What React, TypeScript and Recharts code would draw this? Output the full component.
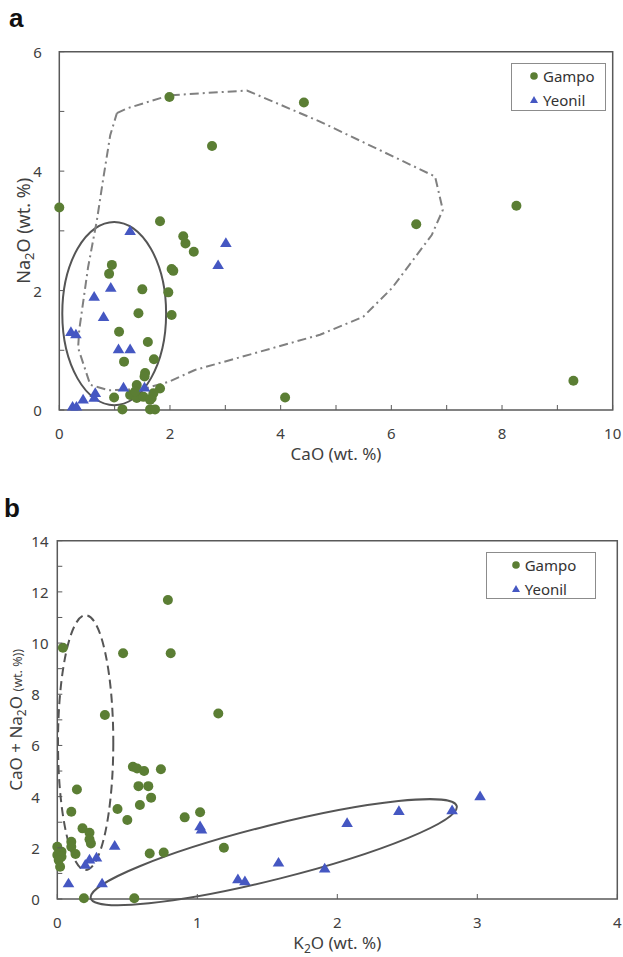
import { ScatterChart, Scatter, XAxis, YAxis, ReferenceArea, Legend } from 'recharts'

const FONT = '"Noto Sans", sans-serif'
const INK = '#404040'
const AXIS = '#595959'
const GREEN = '#5b7e34'
const BLUE = '#4557c2'

// panel a: CaO vs Na2O
const gampoCaO = [0, 1.82, 2.24, 2.28, 2.43, 0.95, 0.9, 2.03, 2.06, 1.5, 1.97, 1.43, 2.03, 1.08, 1.6, 1.17, 1.71, 1.55, 1.54, 1.4, 1.82, 0.99, 1.28, 1.4, 1.52, 1.67, 1.7, 1.64, 1.14, 1.64, 1.73, 1.37, 1.99, 4.42, 2.76, 4.08, 6.45, 8.26, 9.29]
const gampoNa2O = [3.39, 3.16, 2.91, 2.79, 2.65, 2.43, 2.28, 2.36, 2.33, 2.02, 1.97, 1.62, 1.59, 1.31, 1.14, 0.81, 0.85, 0.62, 0.56, 0.42, 0.36, 0.21, 0.25, 0.2, 0.22, 0.2, 0.28, 0.17, 0.01, 0.01, 0.01, 0.31, 5.24, 5.15, 4.42, 0.21, 3.11, 3.42, 0.49]
const yeonilCaO = [1.28, 0.93, 0.63, 0.8, 0.21, 0.3, 1.07, 1.28, 1.16, 1.54, 0.65, 0.63, 0.43, 0.24, 0.31, 3.01, 2.87]
const yeonilNa2O = [3.0, 2.05, 1.9, 1.56, 1.31, 1.27, 1.02, 1.02, 0.38, 0.38, 0.29, 0.21, 0.18, 0.06, 0.06, 2.8, 2.43]
// dash-dot outline drawn round the Gampo field
const hullCaO = [1.04, 1.22, 1.99, 3.39, 4.71, 6.79, 6.93, 6.73, 6.01, 5.49, 4.71, 2.45, 1.97, 1.51, 0.89, 0.56, 0.34, 0.36, 0.52, 0.68, 0.79, 0.92, 1.04]
const hullNa2O = [4.97, 5.05, 5.27, 5.35, 4.83, 3.91, 3.35, 2.93, 2.04, 1.56, 1.26, 0.67, 0.47, 0.35, 0.33, 0.42, 1.04, 1.34, 2.39, 3.18, 3.85, 4.6, 4.97]
const caoTicks = [0, 1, 2, 3, 4, 5, 6, 7, 8, 9, 10]
const na2oTicks = [0, 1, 2, 3, 4, 5, 6]

// panel b: K2O vs CaO + Na2O
const gampoK2O = [0.54, 0.57, 0.62, 0.74, 0.14, 0.58, 0.65, 0.67, 0.59, 0.43, 0.1, 0.5, 0.18, 0.23, 0.23, 0.24, 0.1, 0.1, 0.13, 0, 0.03, 0, 0.03, 0.01, 0.02, 0.66, 0.76, 0.19, 0.55, 1.15, 0.34, 0.04, 0.47, 0.81, 0.79, 0.91, 1.02, 1.19]
const gampoSum = [5.17, 5.1, 5.0, 5.07, 4.28, 4.41, 4.41, 3.96, 3.67, 3.52, 3.41, 3.09, 2.76, 2.59, 2.33, 2.17, 2.24, 2.04, 1.76, 2.04, 1.85, 1.72, 1.65, 1.52, 1.26, 1.78, 1.82, 0.03, 0.03, 7.25, 7.19, 9.82, 9.6, 9.6, 11.68, 3.19, 3.39, 2.0]
const yeonilK2O = [0.41, 0.28, 0.23, 0.2, 0.08, 0.32, 1.02, 1.03, 1.29, 1.34, 1.58, 1.91, 2.07, 2.44, 2.82, 3.02]
const yeonilSum = [2.09, 1.63, 1.55, 1.35, 0.62, 0.62, 2.85, 2.72, 0.78, 0.7, 1.43, 1.2, 2.98, 3.45, 3.48, 4.02]
const k2oTicks = [0, 1, 2, 3, 4]
const sumTicks = [0, 1, 2, 3, 4, 5, 6, 7, 8, 9, 10, 11, 12, 13, 14]

// ovals, as boxes in data units
const ovalA = { x1: 0.054, x2: 1.93, y1: 0.08, y2: 3.15 }
const dashedOvalB = { x1: 0.005, x2: 0.4, y1: 1.13, y2: 11.09 }
const tiltedOvalB = { x1: 0.239, x2: 2.853, y1: 0.03, y2: 3.63 } // ends of the long axis

const zip = (xs: number[], ys: number[]) => xs.map((x, i) => ({ x, y: ys[i] }))

const Dot = (p: any) => <circle cx={p.cx} cy={p.cy} r={5} fill={GREEN} />
const Tri = (p: any) => (
  <polygon
    points={`${p.cx},${p.cy - 5.5} ${p.cx - 5.8},${p.cy + 4.2} ${p.cx + 5.8},${p.cy + 4.2}`}
    fill={BLUE}
  />
)
const NoDot = () => <g />

const oval = (dash?: string) => (p: any) => (
  <ellipse
    cx={p.x + p.width / 2}
    cy={p.y + p.height / 2}
    rx={p.width / 2}
    ry={p.height / 2}
    fill="none"
    stroke="#555"
    strokeWidth={2}
    strokeDasharray={dash}
  />
)

const TiltedOval = (p: any) => {
  const cx = p.x + p.width / 2
  const cy = p.y + p.height / 2
  const rx = Math.hypot(p.width, p.height) / 2
  const ang = (-Math.atan2(p.height, p.width) * 180) / Math.PI
  return (
    <ellipse
      cx={cx}
      cy={cy}
      rx={rx}
      ry={27}
      transform={`rotate(${ang} ${cx} ${cy})`}
      fill="none"
      stroke="#555"
      strokeWidth={2}
    />
  )
}

const xTick = (every: number) => (p: any) => {
  const v = p.payload.value
  return (
    <g>
      <line x1={p.x} x2={p.x} y1={p.y} y2={p.y - 5} stroke={AXIS} />
      {v % every === 0 && (
        <text x={p.x} y={p.y + 23} textAnchor="middle" dominantBaseline="central" fontSize={15} fill={INK} fontFamily={FONT}>
          {v}
        </text>
      )}
    </g>
  )
}

const yTick = (every: number, gap: number) => (p: any) => {
  const v = p.payload.value
  return (
    <g>
      <line x1={p.x} x2={p.x + 5} y1={p.y} y2={p.y} stroke={AXIS} />
      {v % every === 0 && (
        <text x={p.x - gap} y={p.y} textAnchor="start" dominantBaseline="central" fontSize={15} fill={INK} fontFamily={FONT}>
          {v}
        </text>
      )}
    </g>
  )
}

const legendBox = (markerX: number, textX: number, rows: number[]) => (props: any) => {
  const items = (props.payload ?? []).filter((e: any) => e.type !== 'none')
  return (
    <div
      style={{
        position: 'relative',
        width: '100%',
        height: '100%',
        border: '1px solid #8c8c8c',
        boxSizing: 'border-box',
        background: '#fff',
        fontFamily: FONT,
        fontSize: 15,
        color: '#333',
      }}
    >
      {items.map((e: any, i: number) => (
        <div key={e.value} style={{ position: 'absolute', left: 0, top: rows[i] - 11, height: 22, width: '100%' }}>
          <svg width={12} height={22} style={{ position: 'absolute', left: markerX - 6, top: 0 }}>
            {e.type === 'triangle' ? (
              <polygon points="6,7 2,14 10,14" fill={BLUE} />
            ) : (
              <circle cx={6} cy={11} r={3.8} fill={GREEN} />
            )}
          </svg>
          <span style={{ position: 'absolute', left: textX, top: 0, lineHeight: '22px' }}>{e.value}</span>
        </div>
      ))}
    </div>
  )
}

const PanelTag = ({ text, left, top }: { text: string; left: number; top: number }) => (
  <div
    style={{
      position: 'absolute',
      left,
      top,
      fontFamily: '"Liberation Sans", Arial, sans-serif',
      fontWeight: 700,
      fontSize: 26,
      lineHeight: '26px',
      color: '#111',
    }}
  >
    {text}
  </div>
)

export default function App() {
  return (
    <div style={{ position: 'absolute', left: 0, top: 0, width: 623, height: 957, background: '#fff' }}>
      <PanelTag text="a" left={9} top={5} />
      <div style={{ position: 'absolute', left: 0, top: 0 }}>
        <ScatterChart width={623} height={480} margin={{ top: 51.7, right: 10.3, bottom: 40, left: 19.3 }} style={{ fontFamily: FONT }}>
          <XAxis
            type="number"
            dataKey="x"
            domain={[0, 10]}
            ticks={caoTicks}
            interval={0}
            height={30}
            axisLine={false}
            tickLine={false}
            tickSize={0}
            tickMargin={0}
            tick={xTick(2)}
            label={(p: any) => (
              <text x={p.viewBox.x + p.viewBox.width / 2} y={p.viewBox.y + 50} textAnchor="middle" fontSize={17} fill={INK} fontFamily={FONT}>
                CaO (wt. %)
              </text>
            )}
          />
          <YAxis
            type="number"
            dataKey="y"
            domain={[0, 6]}
            ticks={na2oTicks}
            interval={0}
            width={40}
            axisLine={false}
            tickLine={false}
            tickSize={0}
            tickMargin={0}
            tick={yTick(2, 26)}
            label={(p: any) => {
              const cx = 30
              const cy = p.viewBox.y + p.viewBox.height / 2
              return (
                <text x={cx} y={cy} transform={`rotate(-90 ${cx} ${cy})`} textAnchor="middle" fontSize={18} fill={INK} fontFamily={FONT}>
                  Na<tspan dy={4} fontSize={13}>2</tspan>
                  <tspan dy={-4}>O (wt. %)</tspan>
                </text>
              )
            }}
          />
          <ReferenceArea x1={0} x2={10} y1={0} y2={6} fill="none" stroke={AXIS} strokeWidth={1.5} />
          <ReferenceArea {...ovalA} shape={oval()} />
          <Scatter
            name="outline"
            data={zip(hullCaO, hullNa2O)}
            shape={NoDot}
            line={{ stroke: '#808080', strokeWidth: 2, strokeDasharray: '9 4 2 4' }}
            lineType="joint"
            legendType="none"
            isAnimationActive={false}
          />
          <Scatter name="Gampo" data={zip(gampoCaO, gampoNa2O)} shape={Dot} legendType="circle" isAnimationActive={false} />
          <Scatter name="Yeonil" data={zip(yeonilCaO, yeonilNa2O)} shape={Tri} legendType="triangle" isAnimationActive={false} />
          <Legend
            layout="vertical"
            align="center"
            verticalAlign="middle"
            wrapperStyle={{ left: 511, top: 62.7, width: 95, height: 48 }}
            content={legendBox(22, 31, [12.3, 36.6])}
          />
        </ScatterChart>
      </div>

      <PanelTag text="b" left={4} top={495} />
      <div style={{ position: 'absolute', left: 0, top: 480 }}>
        <ScatterChart width={623} height={477} margin={{ top: 60.7, right: 5.7, bottom: 28, left: 17.3 }} style={{ fontFamily: FONT }}>
          <XAxis
            type="number"
            dataKey="x"
            domain={[0, 4]}
            ticks={k2oTicks}
            interval={0}
            height={30}
            axisLine={false}
            tickLine={false}
            tickSize={0}
            tickMargin={0}
            tick={xTick(1)}
            label={(p: any) => (
              <text x={p.viewBox.x + p.viewBox.width / 2} y={p.viewBox.y + 50} textAnchor="middle" fontSize={17} fill={INK} fontFamily={FONT}>
                K<tspan dy={4} fontSize={12}>2</tspan>
                <tspan dy={-4}>O (wt. %)</tspan>
              </text>
            )}
          />
          <YAxis
            type="number"
            dataKey="y"
            domain={[0, 14]}
            ticks={sumTicks}
            interval={0}
            width={40}
            axisLine={false}
            tickLine={false}
            tickSize={0}
            tickMargin={0}
            tick={yTick(2, 26)}
            label={(p: any) => {
              const cx = 22
              const cy = p.viewBox.y + p.viewBox.height / 2
              return (
                <text x={cx} y={cy} transform={`rotate(-90 ${cx} ${cy})`} textAnchor="middle" fontSize={17} fill={INK} fontFamily={FONT}>
                  CaO + Na<tspan dy={4} fontSize={12}>2</tspan>
                  <tspan dy={-4}>O </tspan>
                  <tspan fontSize={12.5}>(wt. %))</tspan>
                </text>
              )
            }}
          />
          <ReferenceArea x1={0} x2={4} y1={0} y2={14} fill="none" stroke={AXIS} strokeWidth={1.5} />
          <ReferenceArea {...dashedOvalB} shape={oval('9 5')} />
          <ReferenceArea {...tiltedOvalB} shape={TiltedOval} />
          <Scatter name="Gampo" data={zip(gampoK2O, gampoSum)} shape={Dot} legendType="circle" isAnimationActive={false} />
          <Scatter name="Yeonil" data={zip(yeonilK2O, yeonilSum)} shape={Tri} legendType="triangle" isAnimationActive={false} />
          <Legend
            layout="vertical"
            align="center"
            verticalAlign="middle"
            wrapperStyle={{ left: 485.7, top: 72, width: 110, height: 47 }}
            content={legendBox(29, 38, [12, 35.7])}
          />
        </ScatterChart>
      </div>
    </div>
  )
}
